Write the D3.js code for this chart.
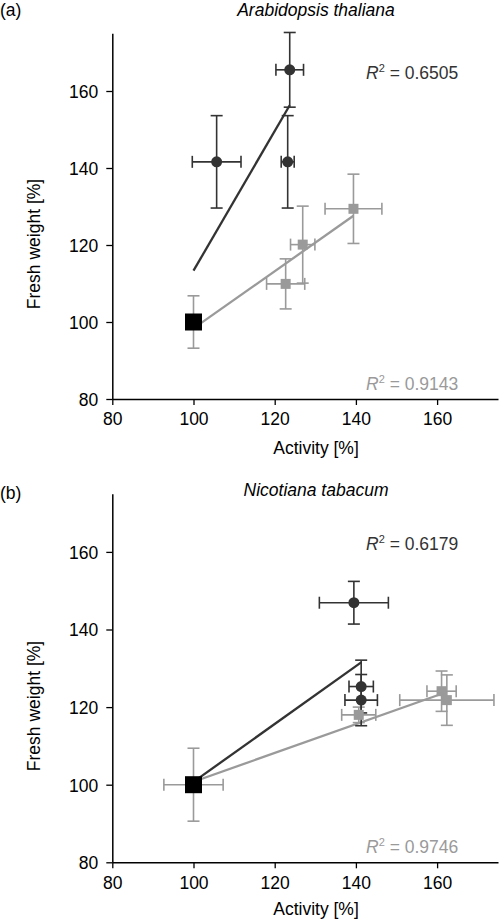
<!DOCTYPE html>
<html><head><meta charset="utf-8">
<script src="https://cdn.jsdelivr.net/npm/d3@7"></script>
<style>body{margin:0;background:#fff}svg{display:block;font-family:"Liberation Sans",Arial,sans-serif}</style>
</head><body><svg id="c" width="500" height="920"></svg>
<script>
// ---- data ----
const tickValues = [80, 100, 120, 140, 160];
const panelLabels = ["(a)", "(b)"];
const panelTitles = ["Arabidopsis thaliana", "Nicotiana tabacum"];
const control = {x: 100, y: 100};
const ctrlXErr = [0, 7.3];
const ctrlYErr = [6.8, 9.4];
// panel a
const aDarkX = [105.7, 123.2, 123.7];
const aDarkY = [141.6, 141.6, 165.5];
const aDarkXErr = [6, 1.6, 3.4];
const aDarkYErr = [12, 12, 9.7];
const aGrayX = [122.7, 126.9, 139.4];
const aGrayY = [109.9, 120.1, 129.4];
const aGrayXErr = [4.7, 3, 7];
const aGrayYErr = [6.5, 10, 9];
// panel b
const bDarkX = [139.5, 141.3, 141.3];
const bDarkY = [146.9, 125.3, 121.8];
const bDarkXErr = [8.5, 3, 4];
const bDarkYErr = [5.5, 6.8, 6.6];
const bGrayX = [140.7, 161.1, 162.4];
const bGrayY = [118, 124.1, 121.8];
const bGrayXErr = [4.2, 3.6, 11.6];
const bGrayYErr = [2, 5.2, 6.5];
const r2Dark = ["0.6505", "0.6179"];
const r2Gray = ["0.9143", "0.9746"];

const DARK = "#333333", GRAY = "#9a9a9a";
const FS = 17.5;
const svg = d3.select("#c");

function pts(X, Y, XE, YE) { return X.map((x, i) => ({x, y: Y[i], xe: XE[i], ye: YE[i]})); }

const panels = [
  {top: 33.25, bottom: 399, dark: pts(aDarkX, aDarkY, aDarkXErr, aDarkYErr), gray: pts(aGrayX, aGrayY, aGrayXErr, aGrayYErr),
   labY: 16, titleY: 16, xlabY: 454, ylabY: 244, r2dY: 79, r2gY: 390},
  {top: 493.7, bottom: 862.3, dark: pts(bDarkX, bDarkY, bDarkXErr, bDarkYErr), gray: pts(bGrayX, bGrayY, bGrayXErr, bGrayYErr),
   labY: 499, titleY: 496, xlabY: 915, ylabY: 706, r2dY: 550, r2gY: 853}
];

function fit(P) {
  const all = [control].concat(P);
  const mx = d3.mean(all, d => d.x), my = d3.mean(all, d => d.y);
  const sxy = d3.sum(all, d => (d.x - mx) * (d.y - my)), sxx = d3.sum(all, d => (d.x - mx) ** 2);
  const b = sxy / sxx, a = my - b * mx;
  const x1 = d3.max(P, d => d.x);
  return [[100, a + b * 100], [x1, a + b * x1]];
}

panels.forEach((p, k) => {
  const x = d3.scaleLinear().domain([80, 175]).range([112.3, 498]);
  const y = d3.scaleLinear().domain([80, 175]).range([p.bottom, p.top]);
  const g = svg.append("g");

  const xa = g.append("g").attr("transform", `translate(0,${p.bottom})`)
    .call(d3.axisBottom(x).tickValues(tickValues).tickSize(6).tickPadding(8).tickSizeOuter(0));
  const ya = g.append("g").attr("transform", `translate(112.3,0)`)
    .call(d3.axisLeft(y).tickValues(tickValues).tickSize(6).tickPadding(8).tickSizeOuter(0));
  [xa, ya].forEach(a => {
    a.select(".domain").attr("stroke", "#000").attr("stroke-width", 1.5);
    a.selectAll(".tick line").attr("stroke", "#000").attr("stroke-width", 1.3);
    a.selectAll(".tick text").attr("font-size", FS).attr("fill", "#000").attr("font-family", "Liberation Sans, Arial, sans-serif");
  });
  ya.selectAll(".tick text").attr("dy", "0.36em");

  // regression lines
  const line = d3.line().x(d => x(d[0])).y(d => y(d[1]));
  g.append("path").attr("d", line(fit(p.gray))).attr("stroke", GRAY).attr("stroke-width", 2.3).attr("fill", "none");
  g.append("path").attr("d", line(fit(p.dark))).attr("stroke", DARK).attr("stroke-width", 2.3).attr("fill", "none");

  // error bars
  function errbars(P, color) {
    const cap = 6;
    P.forEach(d => {
      const e = g.append("g").attr("stroke", color).attr("stroke-width", 1.6).attr("fill", "none");
      if (d.ye > 0) {
        e.append("line").attr("x1", x(d.x)).attr("x2", x(d.x)).attr("y1", y(d.y - d.ye)).attr("y2", y(d.y + d.ye));
        [d.y - d.ye, d.y + d.ye].forEach(v => e.append("line").attr("x1", x(d.x) - cap).attr("x2", x(d.x) + cap).attr("y1", y(v)).attr("y2", y(v)));
      }
      if (d.xe > 0) {
        e.append("line").attr("y1", y(d.y)).attr("y2", y(d.y)).attr("x1", x(d.x - d.xe)).attr("x2", x(d.x + d.xe));
        [d.x - d.xe, d.x + d.xe].forEach(v => e.append("line").attr("y1", y(d.y) - cap).attr("y2", y(d.y) + cap).attr("x1", x(v)).attr("x2", x(v)));
      }
    });
  }
  errbars([{x: control.x, y: control.y, xe: ctrlXErr[k], ye: ctrlYErr[k]}], GRAY);
  errbars(p.gray, GRAY);
  errbars(p.dark, DARK);

  // points
  g.selectAll(".sq").data(p.gray).join("rect").attr("x", d => x(d.x) - 5).attr("y", d => y(d.y) - 5)
    .attr("width", 10).attr("height", 10).attr("fill", GRAY);
  g.selectAll(".ci").data(p.dark).join("circle").attr("cx", d => x(d.x)).attr("cy", d => y(d.y)).attr("r", 5.5).attr("fill", DARK);
  g.append("rect").attr("x", x(control.x) - 8.5).attr("y", y(control.y) - 8.5).attr("width", 17).attr("height", 17).attr("fill", "#000");

  // texts
  g.append("text").attr("x", 0).attr("y", p.labY).attr("font-size", FS).text(panelLabels[k]);
  g.append("text").attr("x", 316).attr("y", p.titleY).attr("font-size", FS).attr("font-style", "italic").attr("text-anchor", "middle").text(panelTitles[k]);
  g.append("text").attr("x", 316).attr("y", p.xlabY).attr("font-size", FS).attr("text-anchor", "middle").text("Activity [%]");
  g.append("text").attr("transform", `translate(40,${p.ylabY}) rotate(-90)`).attr("font-size", FS).attr("text-anchor", "middle").text("Fresh weight [%]");

  function r2(val, yy, color) {
    const t = g.append("text").attr("x", 366).attr("y", yy).attr("font-size", FS).attr("fill", color);
    t.append("tspan").attr("font-style", "italic").text("R");
    t.append("tspan").attr("font-size", 11).attr("dy", -7).text("2");
    t.append("tspan").attr("dy", 7).text(" = " + val);
  }
  r2(r2Dark[k], p.r2dY, DARK);
  r2(r2Gray[k], p.r2gY, GRAY);
});
</script></body></html>
